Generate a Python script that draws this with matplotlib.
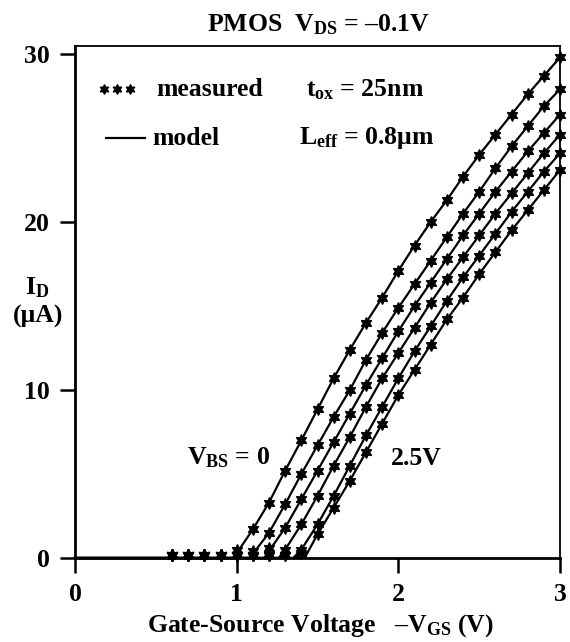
import numpy as np
import matplotlib
matplotlib.use("Agg")
import matplotlib.pyplot as plt

plt.rcParams["font.family"] = ["Liberation Serif", "DejaVu Serif"]
plt.rcParams["font.weight"] = "bold"
plt.rcParams["mathtext.fontset"] = "custom"
plt.rcParams["mathtext.rm"] = "Liberation Serif:bold"
plt.rcParams["mathtext.it"] = "Liberation Serif:bold"
plt.rcParams["mathtext.bf"] = "Liberation Serif:bold"

# gate-source voltage -VGS (V) of the measured points
vgs = [0.6, 0.7, 0.8, 0.9, 1.0, 1.1, 1.2, 1.3, 1.4, 1.5, 1.6, 1.7, 1.8,
       1.9, 2.0, 2.1, 2.2, 2.3, 2.4, 2.5, 2.6, 2.7, 2.8, 2.9, 3.0]

# measured drain current ID (uA), one list per VBS
id_vbs00 = [0.2, 0.2, 0.2, 0.2, 0.5, 1.7, 3.3, 5.2, 7.0, 8.85, 10.7, 12.4, 14.0,
            15.5, 17.1, 18.6, 20.0, 21.3, 22.7, 24.0, 25.2, 26.4, 27.6, 28.7, 29.8]
id_vbs05 = [0.2, 0.2, 0.2, 0.2, 0.2, 0.4, 1.5, 3.2, 5.0, 6.7, 8.4, 10.0, 11.8,
            13.4, 14.9, 16.3, 17.7, 19.1, 20.5, 21.8, 23.2, 24.5, 25.7, 26.9, 27.9]
id_vbs10 = [0.2, 0.2, 0.2, 0.2, 0.2, 0.2, 0.6, 1.8, 3.5, 5.2, 6.9, 8.6, 10.3,
            11.9, 13.5, 15.0, 16.4, 17.8, 19.2, 20.5, 21.8, 23.0, 24.2, 25.3, 26.4]
id_vbs15 = [0.2, 0.2, 0.2, 0.2, 0.2, 0.2, 0.2, 0.5, 2.0, 3.7, 5.5, 7.2, 9.0,
            10.7, 12.2, 13.7, 15.2, 16.6, 17.9, 19.2, 20.5, 21.7, 22.9, 24.1, 25.2]
id_vbs20 = [0.2, 0.2, 0.2, 0.2, 0.2, 0.2, 0.2, 0.2, 0.5, 2.0, 3.7, 5.5, 7.3,
            9.0, 10.7, 12.3, 13.8, 15.3, 16.7, 18.0, 19.3, 20.6, 21.8, 23.0, 24.1]
id_vbs25 = [0.2, 0.2, 0.2, 0.2, 0.2, 0.2, 0.2, 0.2, 0.3, 1.4, 3.0, 4.6, 6.3,
            8.0, 9.7, 11.2, 12.7, 14.2, 15.5, 16.9, 18.2, 19.5, 20.7, 21.9, 23.1]

measured = [id_vbs00, id_vbs05, id_vbs10, id_vbs15, id_vbs20, id_vbs25]
# threshold where each model curve leaves zero
vt = [0.98, 1.08, 1.17, 1.26, 1.35, 1.42]

FS = 18.5

fig = plt.figure(figsize=(5.7, 6.42), dpi=100)
ax = fig.add_axes([75 / 570, 1 - 558 / 642, 485 / 570, 512 / 642])

for ids, v0 in zip(measured, vt):
    # model line: flat at zero up to threshold, then through the curve
    mx = [0.0, v0] + [v for v in vgs if v > v0 + 0.03]
    my = [0.0, 0.0] + [i for v, i in zip(vgs, ids) if v > v0 + 0.03]
    ax.plot(mx, my, color="black", lw=1.6, clip_on=False, zorder=2)
    ax.plot(vgs, ids, ls="none", marker=(6, 1, 0), ms=8.5, color="black",
            clip_on=False, zorder=3)

ax.set_xlim(0, 3)
ax.set_ylim(0, 30.48)
ax.set_xticks([0, 1, 2, 3])
ax.set_yticks([0, 10, 20, 30])
ax.tick_params(axis="both", direction="out", length=11, width=1.8,
               labelsize=FS, color="black")
ax.tick_params(axis="x", pad=7)
ax.tick_params(axis="y", pad=7)
for lab in ax.get_xticklabels() + ax.get_yticklabels():
    lab.set_fontweight("bold")
for s in ["left", "bottom"]:
    ax.spines[s].set_linewidth(2.0)
for s in ["top", "right"]:
    ax.spines[s].set_linewidth(1.3)

# legend drawn by hand, like the original
ax.plot([0.18, 0.26, 0.34], [27.9, 27.9, 27.9], ls="none", marker=(6, 1, 0),
        ms=7, color="black")
ax.text(0.50, 27.9, "measured", fontsize=FS, va="center", ha="left")
ax.plot([0.19, 0.43], [25.0, 25.0], color="black", lw=1.6)
ax.text(0.475, 25.0, "model", fontsize=FS, va="center", ha="left")
ax.text(1.43, 27.9, r"t$_{ox}$ = 25nm", fontsize=FS, va="center", ha="left")
ax.text(1.385, 25.0, r"L$_{eff}$ = 0.8μm", fontsize=FS, va="center", ha="left")

ax.text(0.69, 5.95, r"V$_{BS}$ = 0", fontsize=FS, va="center", ha="left")
ax.text(1.955, 5.95, "2.5V", fontsize=FS, va="center", ha="left")

fig.text(318 / 570, 1 - 25 / 642, r"PMOS  V$_{DS}$ = –0.1V", fontsize=FS,
         ha="center", va="center")
fig.text(320 / 570, 1 - 626 / 642, r"Gate-Source Voltage   –V$_{GS}$ (V)",
         fontsize=FS, ha="center", va="center")
fig.text(37 / 570, 1 - 288 / 642, r"I$_{D}$", fontsize=FS, ha="center", va="center")
fig.text(38 / 570, 1 - 316 / 642, "(μA)", fontsize=FS, ha="center", va="center")

fig.savefig("out.png", dpi=100)
